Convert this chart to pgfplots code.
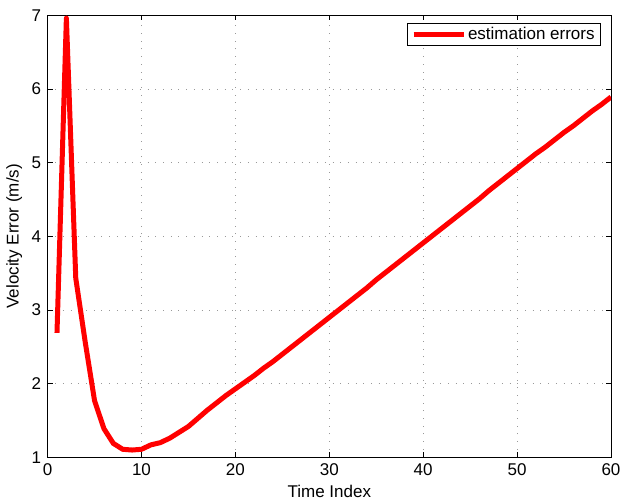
\documentclass[border=0pt]{standalone}
\usepackage{fontspec}
\setmainfont{Liberation Sans}
\usepackage{pgfplots}
\pgfplotsset{compat=1.18}
\begin{document}
\begin{tikzpicture}
\begin{axis}[
  at={(0pt,0pt)}, anchor=south west,
  scale only axis,
  width=563.4pt, height=442.2pt,
  xmin=0, xmax=60, ymin=1, ymax=7,
  xtick={0,10,...,60}, ytick={1,2,...,7},
  grid=major,
  major grid style={gray!80, line width=0.6pt, dash pattern=on 0.8pt off 6.9pt},
  axis line style={line width=0.8pt},
  tick style={line width=0.6pt, black},
  major tick length=5pt,
  tick align=inside,
  /pgf/number format/assume math mode=true,
  tick label style={font=\fontsize{17}{19}\selectfont},
  label style={font=\fontsize{17}{19}\selectfont},
  xlabel={Time Index}, ylabel={Velocity Error (m/s)},
  xlabel style={at={(0.5,0)}, anchor=north, yshift=-24pt},
  ylabel style={at={(0,0.5)}, anchor=south, yshift=22pt},
  xticklabel style={yshift=-3pt},
  yticklabel style={xshift=-3pt},
  legend style={at={(1,1)}, anchor=north east, xshift=-10pt, yshift=-8pt,
    font=\fontsize{17}{19}\selectfont, draw=black, line width=0.8pt,
    inner xsep=4pt, inner ysep=2pt},
  legend cell align=left,
  legend image code/.code={\draw[#1, line width=5pt] (0pt,0pt) -- (50pt,0pt);},
]
\addplot[red, line width=5pt, line join=round] coordinates {
(1,2.69) (2,6.96) (3,3.43) (4,2.57) (5,1.77) (6,1.39) (7,1.19) (8,1.11) (9,1.10) (10,1.11)
(11,1.17) (12,1.20) (13,1.26) (14,1.34) (15,1.42) (16,1.53) (17,1.64) (18,1.74) (19,1.84) (20,1.93)
(21,2.02) (22,2.11) (23,2.21) (24,2.30) (25,2.40) (26,2.50) (27,2.60) (28,2.70) (29,2.80) (30,2.90)
(31,3.00) (32,3.10) (33,3.20) (34,3.30) (35,3.41) (36,3.51) (37,3.61) (38,3.71) (39,3.81) (40,3.91)
(41,4.01) (42,4.11) (43,4.21) (44,4.31) (45,4.41) (46,4.51) (47,4.62) (48,4.72) (49,4.82) (50,4.92)
(51,5.02) (52,5.12) (53,5.21) (54,5.31) (55,5.41) (56,5.50) (57,5.60) (58,5.70) (59,5.79) (60,5.89)
};
\addlegendentry{estimation errors}
\end{axis}
\pgfresetboundingbox
\useasboundingbox (-47.6pt,-42.6pt) rectangle (576.4pt,457.4pt);
\end{tikzpicture}
\end{document}
